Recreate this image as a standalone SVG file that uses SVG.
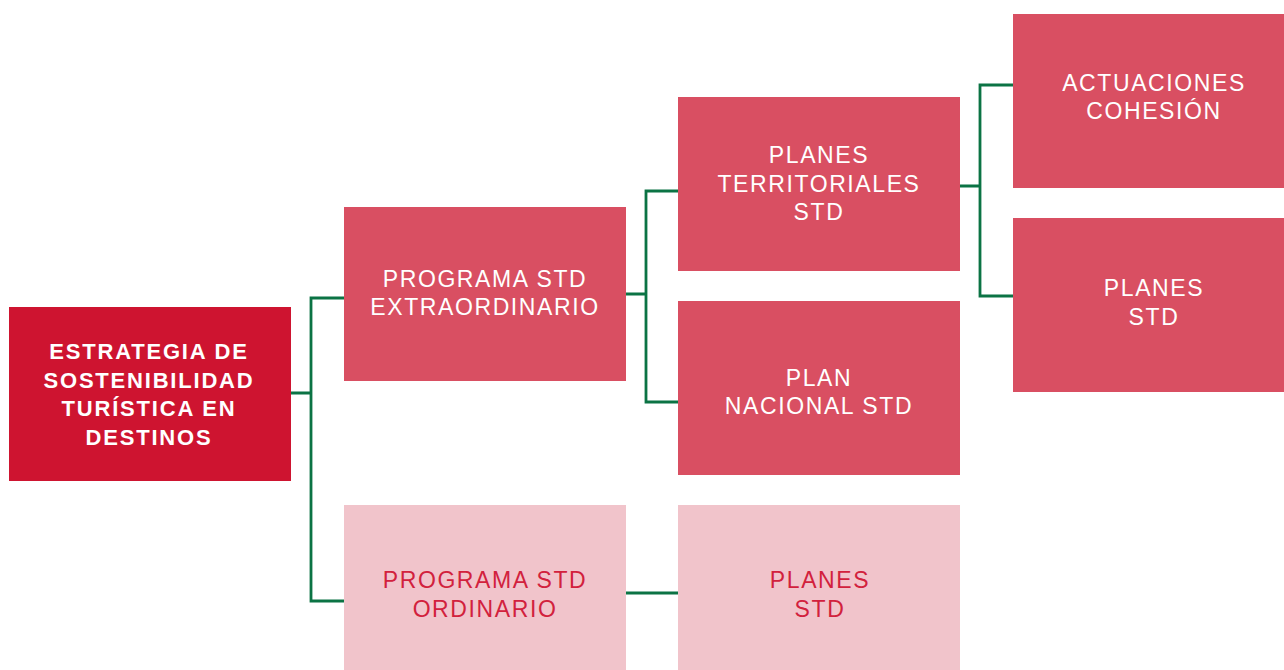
<svg xmlns="http://www.w3.org/2000/svg" width="1284" height="670" viewBox="0 0 1284 670">
<style>
.root{fill:#CE1430}
.mid{fill:#D94F62}
.light{fill:#F1C4CB}
text{font-family:"Liberation Sans",Arial,sans-serif;font-size:23px;text-anchor:middle;letter-spacing:1.6px}
.tw{fill:#FFFFFF}
.tb{fill:#FFFFFF;font-weight:bold;font-size:22px;letter-spacing:1.8px}
.tr{fill:#D2213D}
.conn{fill:none;stroke:#0B7344;stroke-width:2.8}
</style>
<rect width="1284" height="670" fill="#FFFFFF"/>
<g id="connectors">
<path class="conn" d="M291 393H311M344 298H311V601H344"/>
<path class="conn" d="M626 294H646M678 191H646V402H678"/>
<path class="conn" d="M960 186H980M1013 85H980V296H1013"/>
<path class="conn" d="M626 593H678"/>
</g>
<g id="root">
<rect class="root" x="9" y="307" width="282" height="174"/>
<text class="tb" x="149" y="359">ESTRATEGIA DE</text>
<text class="tb" x="149" y="388">SOSTENIBILIDAD</text>
<text class="tb" x="149" y="416">TURÍSTICA EN</text>
<text class="tb" x="149" y="445">DESTINOS</text>
</g>
<g id="programa-extraordinario">
<rect class="mid" x="344" y="207" width="282" height="174"/>
<text class="tw" x="485" y="287">PROGRAMA STD</text>
<text class="tw" x="485" y="315">EXTRAORDINARIO</text>
</g>
<g id="planes-territoriales">
<rect class="mid" x="678" y="97" width="282" height="174"/>
<text class="tw" x="819" y="163">PLANES</text>
<text class="tw" x="819" y="192">TERRITORIALES</text>
<text class="tw" x="819" y="220">STD</text>
</g>
<g id="plan-nacional">
<rect class="mid" x="678" y="301" width="282" height="174"/>
<text class="tw" x="819" y="386">PLAN</text>
<text class="tw" x="819" y="414">NACIONAL STD</text>
</g>
<g id="actuaciones-cohesion">
<rect class="mid" x="1013" y="14" width="271" height="174"/>
<text class="tw" x="1154" y="91">ACTUACIONES</text>
<text class="tw" x="1154" y="119">COHESIÓN</text>
</g>
<g id="planes-std-right">
<rect class="mid" x="1013" y="218" width="271" height="174"/>
<text class="tw" x="1154" y="296">PLANES</text>
<text class="tw" x="1154" y="325">STD</text>
</g>
<g id="programa-ordinario">
<rect class="light" x="344" y="505" width="282" height="165"/>
<text class="tr" x="485" y="588">PROGRAMA STD</text>
<text class="tr" x="485" y="617">ORDINARIO</text>
</g>
<g id="planes-std-bottom">
<rect class="light" x="678" y="505" width="282" height="165"/>
<text class="tr" x="820" y="588">PLANES</text>
<text class="tr" x="820" y="617">STD</text>
</g>
</svg>
